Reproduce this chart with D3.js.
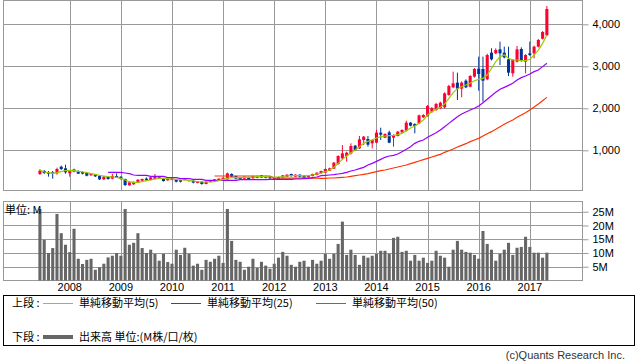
<!DOCTYPE html>
<html>
<head>
    <meta charset="utf-8">
    <title>株価チャート（月足）</title>
    <script src="https://d3js.org/d3.v7.min.js"></script>
  <style>
        body {
            margin: 0;
            background: #fff;
        }
        svg {
            display: block;
            font-family: "Noto Sans CJK JP", "Noto Sans", sans-serif;
        }
        .num {
            font-family: "Liberation Sans", Arial, sans-serif;
            font-size: 11px;
        }
  </style>
</head>
<body>
    <div id="chart"></div>

  <script>
        // Monthly bars, Jun 2007 - May 2017
        const months = d3.timeMonths(new Date(2007, 5, 1), new Date(2017, 5, 1));

        const open = [
            436, 507, 484, 476, 452, 610, 571, 452, 491, 507,
            484, 468, 404, 420, 388, 309, 372, 325, 388, 372,
            317, 166, 190, 237, 277, 325, 293, 317, 325, 333,
            285, 293, 309, 293, 293, 293, 277, 222, 253, 198,
            245, 261, 285, 293, 309, 436, 388, 356, 325, 364,
            333, 341, 348, 388, 372, 317, 364, 356, 372, 436,
            372, 420, 396, 356, 388, 412, 452, 468, 515, 563,
            674, 809, 864, 928, 1111, 1047, 1245, 1269, 1166, 1182,
            1420, 1301, 1428, 1301, 1341, 1428, 1468, 1658, 1627, 1642,
            1785, 1817, 1920, 1960, 2000, 2023, 2317, 2499, 2611, 2468,
            2658, 2515, 2754, 2944, 2936, 2690, 3325, 3309, 3404, 3325,
            3166, 2833, 3111, 3412, 3111, 3309, 3309, 3468, 3658, 3738
        ];
        const high = [
            547, 531, 507, 507, 587, 634, 658, 523, 563, 523,
            499, 476, 452, 428, 396, 388, 380, 436, 452, 380,
            325, 245, 261, 309, 325, 356, 364, 436, 388, 341,
            333, 341, 317, 301, 333, 293, 285, 269, 261, 261,
            293, 317, 333, 356, 468, 452, 396, 364, 380, 372,
            396, 396, 412, 396, 380, 356, 372, 412, 428, 444,
            428, 428, 404, 412, 444, 476, 515, 571, 587, 722,
            880, 1126, 968, 1166, 1126, 1341, 1341, 1341, 1261, 1484,
            1539, 1404, 1468, 1380, 1460, 1500, 1706, 1674, 1642, 1850,
            1860, 2080, 2030, 2130, 2160, 2380, 2560, 2873, 2849, 2640,
            2690, 2790, 2960, 3230, 3230, 3300, 3428, 3428, 3587, 3468,
            3468, 3170, 3484, 3452, 3290, 3587, 3490, 3650, 3840, 4436
        ];
        const low = [
            412, 436, 372, 325, 420, 531, 444, 372, 476, 436,
            428, 380, 396, 364, 293, 293, 301, 309, 340, 301,
            150, 158, 182, 229, 269, 277, 285, 309, 317, 253,
            277, 285, 237, 237, 285, 253, 214, 214, 182, 190,
            237, 253, 277, 285, 301, 356, 309, 301, 309, 301,
            325, 333, 341, 333, 317, 309, 309, 348, 364, 372,
            364, 356, 333, 348, 380, 404, 444, 460, 507, 555,
            660, 769, 730, 900, 990, 1030, 1126, 1087, 1047, 1170,
            1245, 1290, 1170, 1087, 1330, 1410, 1450, 1570, 1404, 1620,
            1770, 1800, 1890, 1940, 1980, 2000, 2300, 2480, 2198, 2261,
            2480, 2500, 2730, 2420, 2158, 2670, 3140, 3290, 3031, 3190,
            2769, 2754, 3090, 3110, 2833, 3250, 3190, 3450, 3640, 3720
        ];
        const close = [
            515, 460, 444, 452, 555, 555, 476, 515, 547, 444,
            444, 396, 444, 380, 309, 372, 317, 388, 356, 317,
            174, 237, 245, 301, 317, 285, 356, 388, 372, 269,
            325, 333, 253, 253, 325, 269, 230, 261, 198, 253,
            285, 309, 325, 348, 452, 372, 325, 317, 372, 317,
            388, 388, 404, 348, 333, 348, 325, 404, 420, 388,
            420, 372, 348, 404, 436, 468, 507, 555, 571, 706,
            864, 928, 944, 1103, 1007, 1261, 1325, 1134, 1245, 1420,
            1372, 1388, 1182, 1364, 1444, 1484, 1658, 1587, 1579, 1833,
            1841, 2055, 2000, 2103, 2134, 2356, 2531, 2595, 2468, 2611,
            2499, 2769, 2936, 2817, 2658, 3269, 3166, 3388, 3309, 3214,
            2849, 3150, 3404, 3126, 3269, 3269, 3468, 3627, 3817, 4365
        ];

        // moving averages (null = not drawn)
        const ma5 = [
            531, 484, 468, 452, 468, 491, 515, 523, 515, 499,
            484, 468, 444, 428, 404, 388, 372, 364, 356, 333,
            293, 253, 237, 237, 253, 277, 293, 317, 333, 333,
            325, 317, 309, 293, 293, 285, 269, 253, 245, 245,
            245, 253, 277, 309, 333, 348, 348, 348, 356, 356,
            364, 372, 372, 372, 364, 364, 364, 372, 388, 396,
            396, 396, 388, 396, 412, 436, 460, 491, 531, 595,
            690, 785, 864, 944, 1007, 1087, 1166, 1214, 1245, 1293,
            1325, 1341, 1349, 1356, 1372, 1404, 1468, 1531, 1579, 1642,
            1722, 1841, 1920, 1976, 2023, 2103, 2238, 2373, 2468, 2515,
            2555, 2595, 2658, 2690, 2714, 2793, 2952, 3111, 3230, 3269,
            3190, 3150, 3150, 3134, 3134, 3166, 3269, 3388, 3547, 3746
        ];
        const ma25 = [
            null, null, null, null, null, null, null, null, null, null,
            null, null, null, null, null, null, 476, 476, 476, 476,
            460, 444, 412, 404, 404, 404, 380, 380, 380, 380,
            348, 348, 348, 325, 325, 325, 309, 309, 309, 285,
            285, 285, 285, 285, 285, 285, 285, 301, 301, 301,
            301, 301, 301, 301, 309, 309, 309, 309, 309, 309,
            317, 317, 325, 333, 348, 364, 396, 404, 412, 420,
            436, 452, 476, 507, 531, 563, 595, 650, 690, 737,
            785, 833, 864, 880, 912, 968, 1023, 1087, 1166, 1214,
            1245, 1309, 1364, 1420, 1484, 1563, 1642, 1722, 1801, 1865,
            1912, 1960, 2000, 2055, 2134, 2214, 2301, 2380, 2452, 2499,
            2547, 2595, 2674, 2730, 2769, 2817, 2873, 2912, 2992, 3071
        ];
        const ma50 = [
            null, null, null, null, null, null, null, null, null, null,
            null, null, null, null, null, null, null, null, null, null,
            null, null, null, null, null, null, null, null, null, null,
            null, null, null, null, null, null, null, null, null, null,
            null, 388, 388, 388, 388, 388, 388, 388, 388, 388,
            388, 388, 388, 388, 388, 340, 340, 340, 340, 340,
            340, 340, 340, 340, 340, 340, 333, 333, 341, 341,
            348, 356, 364, 380, 396, 412, 428, 444, 468, 491,
            515, 531, 555, 579, 603, 626, 650, 682, 714, 745,
            777, 809, 841, 872, 904, 952, 991, 1031, 1079, 1118,
            1158, 1206, 1245, 1285, 1341, 1396, 1444, 1500, 1563, 1619,
            1674, 1722, 1785, 1841, 1896, 1960, 2031, 2103, 2182, 2261
        ];

        // volume in millions
        const volume = [
            26.0, 14.8, 10.0, 11.8, 24.2, 17.2, 13.0, 10.3, 18.8, 7.9,
            6.0, 7.5, 7.9, 3.9, 4.8, 6.1, 8.4, 9.0, 10.0, 9.0,
            26.0, 13.0, 13.7, 17.2, 11.8, 10.0, 11.2, 9.7, 7.2, 9.7,
            6.7, 6.1, 11.2, 9.3, 11.9, 9.7, 5.4, 6.1, 3.9, 7.5,
            6.8, 7.9, 9.0, 6.4, 26.0, 14.4, 7.5, 6.8, 3.9, 5.0,
            7.9, 4.6, 6.8, 5.4, 4.3, 6.1, 8.3, 10.4, 9.0, 5.7,
            5.0, 6.8, 7.2, 5.0, 7.5, 6.1, 7.2, 9.7, 7.9, 9.7,
            13.3, 21.4, 9.3, 11.2, 9.3, 5.7, 9.0, 8.3, 9.0, 9.7,
            10.8, 10.8, 9.7, 15.5, 15.9, 10.4, 10.8, 7.2, 9.3, 7.2,
            8.3, 6.4, 7.2, 10.8, 9.0, 8.3, 5.0, 11.2, 14.4, 11.2,
            10.4, 10.1, 9.3, 7.9, 18.0, 13.3, 11.2, 7.2, 9.7, 11.2,
            13.7, 9.3, 11.9, 12.2, 15.9, 12.2, 10.1, 10.1, 8.3, 10.1
        ];

        const priceTicks = [1000, 2000, 3000, 4000];
        const volumeTicks = [5, 10, 15, 20, 25];

        const legendItems = [
            { label: "単純移動平均(5)", color: "#99cc00", x: 43 },
            { label: "単純移動平均(25)", color: "#9900ff", x: 171 },
            { label: "単純移動平均(50)", color: "#ff3300", x: 316 }
        ];

        const data = months.map((m, i) => ({
            month: m, open: open[i], high: high[i], low: low[i], close: close[i],
            vol: volume[i], ma5: ma5[i], ma25: ma25[i], ma50: ma50[i]
        }));

        // Layout
        const width = 638;
        const height = 362;
        const plot = { left: 3.5, right: 582.5 };
        const upper = { y0: 0.5, y1: 190.5 };
        const lower = { y0: 201.5, y1: 280.5 };
        const gridColor = "#999";
        const upColor = "#ff0033";
        const downColor = "#003399";

        const svg = d3.select("#chart")
            .append("svg")
            .attr("width", width)
            .attr("height", height);

        const x = d3.scaleBand()
            .domain(months)
            .range([38.4, 548.4])
            .paddingInner(0.28);
        const xc = d => x(d) + x.bandwidth() / 2;

        const y = d3.scaleLinear()
            .domain([55, 4579])
            .range([190, 0]);

        const yVol = d3.scaleLinear()
            .domain([0, 28.9])
            .range([280.5, 201]);

        const januaries = months.filter(m => m.getMonth() === 0);

        // Grid: upper panel
        const gUp = svg.append("g");
        gUp.selectAll(".hgrid")
            .data(priceTicks)
            .enter()
            .append("line")
            .attr("x1", plot.left)
            .attr("x2", plot.right)
            .attr("y1", d => Math.round(y(d)) + 0.5)
            .attr("y2", d => Math.round(y(d)) + 0.5)
            .attr("stroke", gridColor);
        gUp.selectAll(".vgrid")
            .data(januaries)
            .enter()
            .append("line")
            .attr("x1", d => Math.round(xc(d)) + 0.5)
            .attr("x2", d => Math.round(xc(d)) + 0.5)
            .attr("y1", upper.y0)
            .attr("y2", upper.y1)
            .attr("stroke", gridColor);

        // Grid: volume panel
        const gVol = svg.append("g");
        gVol.selectAll(".hgrid")
            .data(volumeTicks)
            .enter()
            .append("line")
            .attr("x1", plot.left)
            .attr("x2", plot.right)
            .attr("y1", d => Math.round(yVol(d)) + 0.5)
            .attr("y2", d => Math.round(yVol(d)) + 0.5)
            .attr("stroke", gridColor);
        gVol.selectAll(".vgrid")
            .data(januaries)
            .enter()
            .append("line")
            .attr("x1", d => Math.round(xc(d)) + 0.5)
            .attr("x2", d => Math.round(xc(d)) + 0.5)
            .attr("y1", lower.y0)
            .attr("y2", lower.y1)
            .attr("stroke", gridColor);

        // Frames
        svg.append("rect")
            .attr("x", plot.left).attr("y", upper.y0)
            .attr("width", plot.right - plot.left).attr("height", upper.y1 - upper.y0)
            .attr("fill", "none").attr("stroke", gridColor);
        svg.append("rect")
            .attr("x", plot.left).attr("y", lower.y0)
            .attr("width", plot.right - plot.left).attr("height", lower.y1 - lower.y0)
            .attr("fill", "none").attr("stroke", gridColor);

        // Right axes
        const priceAxis = d3.axisRight(y)
            .tickValues(priceTicks)
            .tickSize(6)
            .tickPadding(4)
            .tickFormat(d3.format(","));
        const gPriceAxis = svg.append("g")
            .attr("transform", `translate(${plot.right},0)`)
            .call(priceAxis);

        const volAxis = d3.axisRight(yVol)
            .tickValues(volumeTicks)
            .tickSize(6)
            .tickPadding(4)
            .tickFormat(d => d + "M");
        const gVolAxis = svg.append("g")
            .attr("transform", `translate(${plot.right},0)`)
            .call(volAxis);

        [gPriceAxis, gVolAxis].forEach(g => {
            g.select(".domain").remove();
            g.attr("font-family", null).attr("font-size", null);
            g.selectAll(".tick line").attr("stroke", gridColor);
            g.selectAll(".tick text")
                .attr("class", "num")
                .attr("fill", "#000");
        });

        // Year labels
        const yearAxis = d3.axisBottom(x)
            .tickValues(januaries)
            .tickSize(0)
            .tickPadding(3)
            .tickFormat(d3.timeFormat("%Y"));
        const gYear = svg.append("g")
            .attr("transform", `translate(0,${lower.y1})`)
            .call(yearAxis);
        gYear.select(".domain").remove();
        gYear.attr("font-family", null).attr("font-size", null);
        gYear.selectAll(".tick text")
            .attr("class", "num")
            .attr("fill", "#000");

        // Volume bars
        svg.append("g")
            .selectAll("rect")
            .data(data)
            .enter()
            .append("rect")
            .attr("x", d => x(d.month))
            .attr("width", x.bandwidth())
            .attr("y", d => yVol(d.vol))
            .attr("height", d => yVol(0) - yVol(d.vol))
            .attr("fill", "#666");

        svg.append("text")
            .attr("x", 5)
            .attr("y", 214)
            .style("font-size", "11px")
            .text("単位: M");

        // Candles
        const candles = svg.append("g")
            .selectAll("g")
            .data(data)
            .enter()
            .append("g");

        candles.append("line")
            .attr("x1", d => xc(d.month))
            .attr("x2", d => xc(d.month))
            .attr("y1", d => y(d.high))
            .attr("y2", d => y(d.low))
            .attr("stroke", d => d.close >= d.open ? upColor : downColor)
            .attr("stroke-width", 1);

        candles.append("rect")
            .attr("x", d => x(d.month))
            .attr("width", x.bandwidth())
            .attr("y", d => y(Math.max(d.open, d.close)))
            .attr("height", d => Math.max(1, Math.abs(y(d.open) - y(d.close))))
            .attr("fill", d => d.close >= d.open ? upColor : downColor);

        // Moving averages
        const maLine = key => d3.line()
            .defined(d => d[key] != null)
            .x(d => xc(d.month))
            .y(d => y(d[key]));

        [["ma50", "#ff3300"], ["ma25", "#9900ff"], ["ma5", "#99cc00"]].forEach(([key, color]) => {
            svg.append("path")
                .datum(data)
                .attr("fill", "none")
                .attr("stroke", color)
                .attr("stroke-width", 1.2)
                .attr("d", maLine(key));
        });

        // Legend box
        const legend = svg.append("g").style("font-size", "11px");
        legend.append("rect")
            .attr("x", 3.5).attr("y", 295.5)
            .attr("width", 631).attr("height", 50)
            .attr("fill", "none").attr("stroke", "#000");

        legend.append("text")
            .attr("x", 12).attr("y", 307)
            .text("上段 :");
        legendItems.forEach(item => {
            legend.append("line")
                .attr("x1", item.x).attr("x2", item.x + 30)
                .attr("y1", 303.5).attr("y2", 303.5)
                .attr("stroke", item.color);
            legend.append("text")
                .attr("x", item.x + 36).attr("y", 307)
                .text(item.label);
        });

        legend.append("text")
            .attr("x", 12).attr("y", 341)
            .text("下段 :");
        legend.append("line")
            .attr("x1", 43).attr("x2", 73)
            .attr("y1", 337).attr("y2", 337)
            .attr("stroke", "#666")
            .attr("stroke-width", 4);
        legend.append("text")
            .attr("x", 79).attr("y", 341)
            .text("出来高 単位:(M株/口/枚)");

        svg.append("text")
            .attr("class", "num")
            .attr("x", 625).attr("y", 359)
            .attr("text-anchor", "end")
            .attr("fill", "#333")
            .text("(c)Quants Research Inc.");
  </script>
</body>
</html>
